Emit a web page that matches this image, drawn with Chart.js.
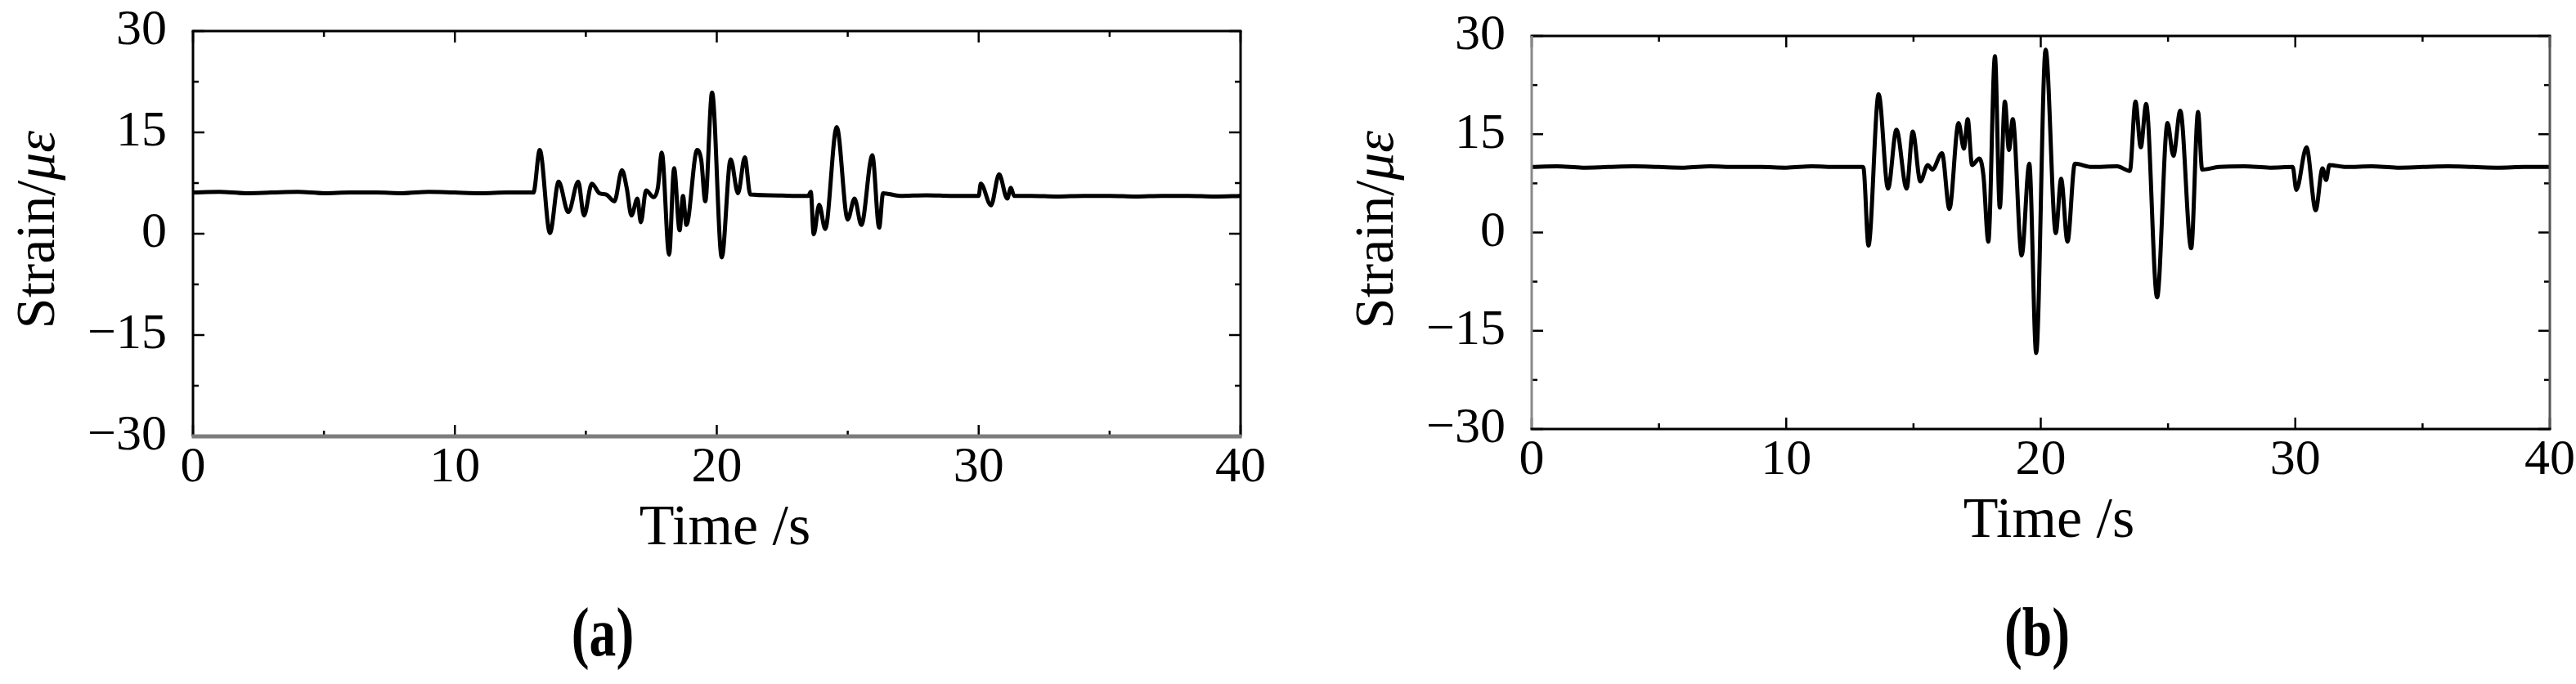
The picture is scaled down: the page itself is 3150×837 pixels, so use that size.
<!DOCTYPE html>
<html>
<head>
<meta charset="utf-8">
<script src="https://cdn.jsdelivr.net/npm/chart.js@4.4.1/dist/chart.umd.min.js"></script>
<style>
  body { margin: 0; background: #fff; width: 3150px; height: 837px; overflow: hidden; position: relative; }
  canvas { position: absolute; top: 0; }
  #chartA { left: 0; }
  #chartB { left: 1575px; }
</style>
</head>
<body>
<canvas id="chartA" width="1575" height="837"></canvas>
<canvas id="chartB" width="1575" height="837"></canvas>
<script>
// (a) strain record
var timeA = [0, 1, 2, 3, 4, 5, 6, 7, 8, 9, 10, 11, 12, 13.0, 13.24, 13.63, 13.96, 14.33, 14.71, 14.93,
  15.23, 15.52, 15.78, 16.09, 16.38, 16.56, 16.74, 16.97, 17.1, 17.3, 17.59, 17.75, 17.9, 18.18, 18.37,
  18.58, 18.71, 18.84, 19.25, 19.41, 19.56, 19.82, 20.19, 20.53, 20.81, 21.07, 21.28, 22, 23, 23.49,
  23.59, 23.7, 23.91, 24.14, 24.58, 25.0, 25.26, 25.52, 25.94, 26.2, 26.35, 27, 28, 29, 30.0, 30.08,
  30.47, 30.78, 31.09, 31.23, 31.35, 32, 33, 34, 35, 36, 37, 38, 39, 40];
var strainA = [6.1, 6.2, 6.0, 6.1, 6.2, 6.0, 6.1, 6.1, 6.0, 6.2, 6.1, 6.0, 6.1, 6.1, 12.4, 0.1, 7.7, 3.2, 7.7, 2.7,
  7.4, 6.0, 5.8, 4.8, 9.4, 6.8, 2.7, 5.2, 1.7, 6.4, 5.4, 6.8, 12.0, -3.1, 9.7,
  0.5, 5.6, 1.3, 12.4, 10.8, 4.8, 20.9, -3.5, 11.0, 6.0, 11.3, 5.8, 5.7, 5.6, 5.6,
  6.2, -0.1, 4.3, 0.7, 15.8, 2.1, 5.2, 1.3, 11.6, 0.9, 6.0, 5.6, 5.7, 5.6, 5.6, 7.4,
  4.2, 8.8, 5.2, 6.8, 5.6, 5.6, 5.5, 5.6, 5.6, 5.5, 5.6, 5.6, 5.5, 5.6];

// (b) strain record
var timeB = [0, 1, 2, 3, 4, 5, 6, 7, 8, 9, 10, 11, 12, 12.99, 13.04, 13.23, 13.63, 14.0, 14.33, 14.73,
  14.97, 15.27, 15.56, 15.74, 16.12, 16.41, 16.77, 16.98, 17.13, 17.3, 17.59, 17.75, 17.94, 18.2, 18.39,
  18.59, 18.75, 18.9, 19.25, 19.55, 19.82, 20.19, 20.59, 20.8, 21.05, 21.34, 22, 23, 23.5, 23.72,
  23.93, 24.14, 24.57, 24.98, 25.21, 25.48, 25.91, 26.18, 26.34, 27, 28, 29, 29.9, 30.04, 30.44,
  30.8, 31.07, 31.21, 31.34, 32, 33, 34, 35, 36, 37, 38, 39, 40];
var strainB = [10.0, 10.1, 9.9, 10.0, 10.1, 10.0, 9.9, 10.1, 10.0, 10.0, 9.9, 10.1, 10.0, 10.0, 9.8, -2.0, 21.1, 6.7, 15.7, 6.7,
  15.4, 7.8, 10.3, 9.6, 12.1, 3.6, 16.7, 12.8, 17.3, 10.3, 11.3, 8.6, -1.4, 26.9, 3.8,
  20.0, 12.6, 17.3, -3.5, 10.5, -18.4, 27.9, -0.1, 8.2, -1.4, 10.5, 10.0, 10.1, 9.4, 20.0,
  13.0, 19.6, -9.9, 16.7, 11.7, 18.6, -2.4, 18.4, 9.6, 10.0, 10.1, 9.9, 10.0, 6.5, 13.0,
  3.4, 9.8, 8.0, 10.3, 10.0, 10.1, 9.9, 10.0, 10.1, 10.0, 9.9, 10.0, 10.0];

var xTicks = [0, 10, 20, 30, 40];
var xMinor = [5, 15, 25, 35];
var yTicks = [-30, -15, 0, 15, 30];
var yMinor = [-22.5, -7.5, 7.5, 22.5];
var xTitle = 'Time /s';
var yTitle = ['Strain/', 'με'];

var serif = '"Liberation Serif", "Times New Roman", serif';

function points(t, v) {
  return t.map(function (x, i) { return { x: x, y: v[i] }; });
}

// box round the plot with inward ticks on all four sides
var frame = {
  id: 'frame',
  afterDatasetsDraw: function (chart, args, o) {
    var ctx = chart.ctx, a = chart.chartArea, sx = chart.scales.x, sy = chart.scales.y;
    function line(x1, y1, x2, y2) { ctx.beginPath(); ctx.moveTo(x1, y1); ctx.lineTo(x2, y2); ctx.stroke(); }
    ctx.save();
    ctx.strokeStyle = '#000';
    ctx.lineWidth = 2.5;
    xTicks.concat(xMinor).forEach(function (v) {
      var px = sx.getPixelForValue(v);
      var len = xMinor.indexOf(v) >= 0 ? 7 : 14;
      line(px, a.bottom, px, a.bottom - len);
      line(px, a.top, px, a.top + len);
    });
    yTicks.concat(yMinor).forEach(function (v) {
      var py = sy.getPixelForValue(v);
      var len = yMinor.indexOf(v) >= 0 ? 7 : 14;
      line(a.left, py, a.left + len, py);
      line(a.right, py, a.right - len, py);
    });
    ctx.lineWidth = 3;
    ctx.strokeStyle = o.top; line(a.left - 1.5, a.top, a.right + 1.5, a.top);
    ctx.strokeStyle = o.right; line(a.right, a.top, a.right, a.bottom);
    ctx.strokeStyle = o.left; line(a.left, a.top, a.left, a.bottom);
    ctx.lineWidth = o.bottomWidth;
    ctx.strokeStyle = o.bottom; line(a.left - 1.5, a.bottom, a.right + 1.5, a.bottom);
    ctx.restore();
  }
};

// axis titles and the panel letter
var panelText = {
  id: 'panelText',
  afterDraw: function (chart, args, o) {
    var ctx = chart.ctx, a = chart.chartArea;
    var cx = (a.left + a.right) / 2;
    ctx.save();
    ctx.fillStyle = '#000';
    ctx.textBaseline = 'alphabetic';

    ctx.textAlign = 'center';
    ctx.font = '70px ' + serif;
    ctx.fillText(xTitle, cx + 10, a.bottom + 132);

    ctx.save();
    ctx.translate(a.left - 170, 281);
    ctx.rotate(-Math.PI / 2);
    ctx.textAlign = 'left';
    ctx.font = '68px ' + serif;
    var w1 = ctx.measureText(yTitle[0]).width;
    ctx.font = 'italic 68px ' + serif;
    var w2 = ctx.measureText(yTitle[1]).width;
    var start = -(w1 + w2) / 2;
    ctx.font = '68px ' + serif;
    ctx.fillText(yTitle[0], start, 0);
    ctx.font = 'italic 68px ' + serif;
    ctx.fillText(yTitle[1], start + w1, 0);
    ctx.restore();

    ctx.save();
    ctx.translate(o.letterX, 802);
    ctx.scale(0.78, 1);
    ctx.textAlign = 'center';
    ctx.font = 'bold 84px ' + serif;
    ctx.fillText(o.letter, 0, 0);
    ctx.restore();

    ctx.restore();
  }
};

function makeChart(id, t, v, area, letter, letterX, sides) {
  var canvas = document.getElementById(id);
  var W = canvas.width, H = canvas.height;
  return new Chart(canvas, {
    type: 'line',
    data: {
      datasets: [{
        data: points(t, v),
        borderColor: '#000',
        borderWidth: 5,
        pointRadius: 0,
        fill: false,
        cubicInterpolationMode: 'monotone'
      }]
    },
    options: {
      responsive: false,
      animation: false,
      devicePixelRatio: 1,
      layout: { padding: { left: 0, top: area.top, right: W - area.right, bottom: 0 } },
      plugins: {
        legend: { display: false },
        tooltip: { enabled: false },
        frame: sides,
        panelText: { letter: letter, letterX: letterX }
      },
      scales: {
        x: {
          type: 'linear',
          min: 0,
          max: 40,
          grid: { display: false, drawTicks: false },
          border: { display: false },
          ticks: { color: '#000', padding: 2, maxRotation: 0, font: { family: serif, size: 62 } },
          afterBuildTicks: function (s) { s.ticks = xTicks.map(function (x) { return { value: x }; }); },
          afterFit: function (s) { s.height = H - area.bottom; s.paddingLeft = 0; s.paddingRight = 0; }
        },
        y: {
          min: -30,
          max: 30,
          grid: { display: false, drawTicks: false },
          border: { display: false },
          ticks: {
            color: '#000',
            padding: 32,
            font: { family: serif, size: 62 },
            callback: function (val) { return String(val).replace('-', '\u2212'); }
          },
          afterBuildTicks: function (s) { s.ticks = yTicks.map(function (y) { return { value: y }; }); },
          afterFit: function (s) { s.width = area.left; s.paddingTop = 0; s.paddingBottom = 0; }
        }
      }
    },
    plugins: [frame, panelText]
  });
}

makeChart('chartA', timeA, strainA, { left: 236, right: 1517, top: 38, bottom: 534 }, '(a)', 737,
  { top: '#000', right: '#000', left: '#000', bottom: '#7d7d7d', bottomWidth: 5 });
makeChart('chartB', timeB, strainB, { left: 298, right: 1543, top: 44, bottom: 525 }, '(b)', 916,
  { top: '#000', right: '#555', left: '#8a8a8a', bottom: '#000', bottomWidth: 3 });
</script>
</body>
</html>
